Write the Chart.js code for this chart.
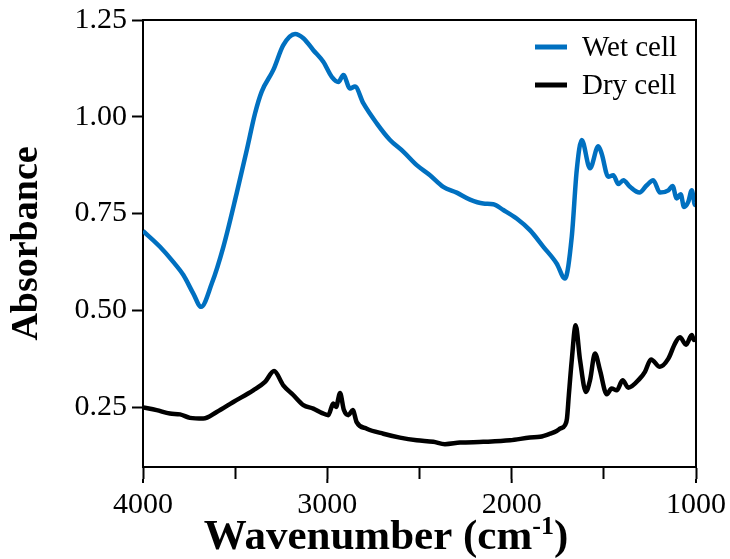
<!DOCTYPE html>
<html>
<head>
<meta charset="utf-8">
<script src="https://cdn.jsdelivr.net/npm/chart.js@4.4.1/dist/chart.umd.min.js"></script>
<style>
body{margin:0;background:#fff;}
#grafica{display:block;}
</style>
</head>
<body>
<canvas id="grafica" width="730" height="559"></canvas>
<script>
// DATOS
const wetWave=[4000,3908,3836,3781,3727,3685,3627,3564,3492,3437,3392,3356,3293,3239,3175,3130,3076,3022,2976,2940,2913,2877,2850,2805,2732,2660,2588,2515,2443,2371,2298,2226,2154,2100,2045,1973,1901,1828,1756,1711,1674,1647,1620,1575,1530,1512,1476,1449,1421,1394,1358,1307,1267,1232,1195,1150,1127,1105,1083,1065,1042,1023,1005,1000];
const wetAbs=[0.705,0.664,0.625,0.591,0.543,0.509,0.569,0.664,0.802,0.914,1.009,1.065,1.121,1.185,1.214,1.203,1.172,1.142,1.103,1.090,1.108,1.073,1.078,1.035,0.983,0.940,0.910,0.875,0.849,0.819,0.804,0.786,0.776,0.774,0.759,0.737,0.707,0.664,0.621,0.582,0.690,0.862,0.940,0.867,0.924,0.905,0.845,0.849,0.826,0.836,0.819,0.804,0.823,0.836,0.804,0.810,0.821,0.789,0.800,0.767,0.780,0.810,0.772,0.776];

const dryWave=[4000,3926,3854,3799,3745,3673,3600,3510,3402,3338,3289,3239,3185,3130,3076,3031,2995,2968,2953,2931,2910,2886,2862,2841,2786,2696,2606,2515,2425,2362,2280,2154,2009,1901,1846,1792,1756,1738,1711,1700,1690,1674,1653,1629,1597,1575,1548,1521,1484,1458,1430,1398,1367,1304,1277,1244,1196,1150,1114,1087,1054,1023,1011,1000];
const dryAbs=[0.249,0.242,0.233,0.231,0.222,0.220,0.237,0.263,0.293,0.315,0.343,0.306,0.281,0.255,0.246,0.235,0.229,0.259,0.250,0.286,0.242,0.229,0.242,0.211,0.194,0.181,0.171,0.164,0.160,0.154,0.158,0.160,0.164,0.171,0.173,0.181,0.188,0.194,0.203,0.220,0.280,0.371,0.461,0.371,0.289,0.319,0.388,0.345,0.283,0.298,0.293,0.319,0.300,0.324,0.341,0.373,0.354,0.375,0.414,0.430,0.411,0.436,0.423,0.430];

const etiquetas=["Wet cell","Dry cell"];
const colores=["#0070c0","#000000"];

function puntos(xs,ys){
    return xs.map((x,i)=>({x:x,y:ys[i]}));
}

const serif="'Liberation Serif', 'DejaVu Serif', serif";

// marco arriba y derecha, ticks mayores, titulo x y leyenda
const extras={
    id:"extras",
    afterDraw(chart){
        const ctx=chart.ctx;
        const a=chart.chartArea;
        const sx=chart.scales.x;
        ctx.save();
        ctx.strokeStyle="#000";
        ctx.lineWidth=2;
        ctx.beginPath();
        ctx.moveTo(a.left,a.top);
        ctx.lineTo(a.right,a.top);
        ctx.lineTo(a.right,a.bottom);
        ctx.stroke();

        // ticks mayores un poco mas largos
        sx.ticks.forEach(t=>{
            if(t.value%1000===0){
                let px=sx.getPixelForValue(t.value);
                ctx.beginPath();
                ctx.moveTo(px,a.bottom+12);
                ctx.lineTo(px,a.bottom+16);
                ctx.stroke();
            }
        });

        // titulo eje x con superindice
        ctx.fillStyle="#000";
        ctx.textBaseline="alphabetic";
        let f1="bold 43px "+serif, f2="bold 26px "+serif;
        let t1="Wavenumber (cm", t2="-1", t3=")";
        ctx.font=f1;
        let w1=ctx.measureText(t1).width, w3=ctx.measureText(t3).width;
        ctx.font=f2;
        let w2=ctx.measureText(t2).width;
        let x0=386-(w1+w2+w3)/2, base=549;
        ctx.font=f1; ctx.fillText(t1,x0,base);
        ctx.font=f2; ctx.fillText(t2,x0+w1,base-15);
        ctx.font=f1; ctx.fillText(t3,x0+w1+w2,base);

        // leyenda
        ctx.font="29px "+serif;
        ctx.textBaseline="middle";
        chart.data.datasets.forEach((d,i)=>{
            let y=47+i*38;
            ctx.strokeStyle=d.borderColor;
            ctx.lineWidth=5;
            ctx.beginPath();
            ctx.moveTo(535,y);
            ctx.lineTo(567,y);
            ctx.stroke();
            ctx.fillStyle="#000";
            ctx.fillText(d.label,582,y+1);
        });
        ctx.restore();
    }
};

new Chart(document.getElementById("grafica"),{
    type:"line",
    data:{
        datasets:[
            {label:etiquetas[0],data:puntos(wetWave,wetAbs),borderColor:colores[0],borderWidth:4.5,pointRadius:0,cubicInterpolationMode:"monotone"},
            {label:etiquetas[1],data:puntos(dryWave,dryAbs),borderColor:colores[1],borderWidth:4.5,pointRadius:0,cubicInterpolationMode:"monotone"}
        ]
    },
    options:{
        responsive:false,
        animation:false,
        layout:{padding:{top:20,right:34,left:0,bottom:0}},
        plugins:{legend:{display:false},tooltip:{enabled:false}},
        scales:{
            x:{
                type:"linear",
                reverse:true,
                min:1000,max:4000,
                grid:{drawOnChartArea:false,drawTicks:true,tickLength:12,tickWidth:2,tickColor:"#000"},
                border:{display:true,color:"#000",width:2},
                ticks:{
                    stepSize:500,
                    maxRotation:0,
                    autoSkip:false,
                    padding:8,
                    color:"#000",
                    font:{family:serif,size:30},
                    callback:v=>(v%1000===0?String(v):"")
                },
                title:{display:false},
                afterFit(s){s.height=92;s.paddingLeft=0;s.paddingRight=0;}
            },
            y:{
                min:0.095,max:1.25,
                grid:{drawOnChartArea:false,drawTicks:true,tickLength:11,tickWidth:2,tickColor:"#000"},
                border:{display:true,color:"#000",width:2},
                ticks:{
                    stepSize:0.25,
                    includeBounds:false,
                    padding:5,
                    color:"#000",
                    font:{family:serif,size:30},
                    callback:v=>v.toFixed(2)
                },
                title:{display:true,text:"Absorbance",color:"#000",font:{family:serif,size:38,weight:"bold"},padding:{top:4,bottom:0}},
                afterFit(s){s.width=143;s.paddingTop=0;s.paddingBottom=0;}
            }
        }
    },
    plugins:[extras]
});
</script>
</body>
</html>
